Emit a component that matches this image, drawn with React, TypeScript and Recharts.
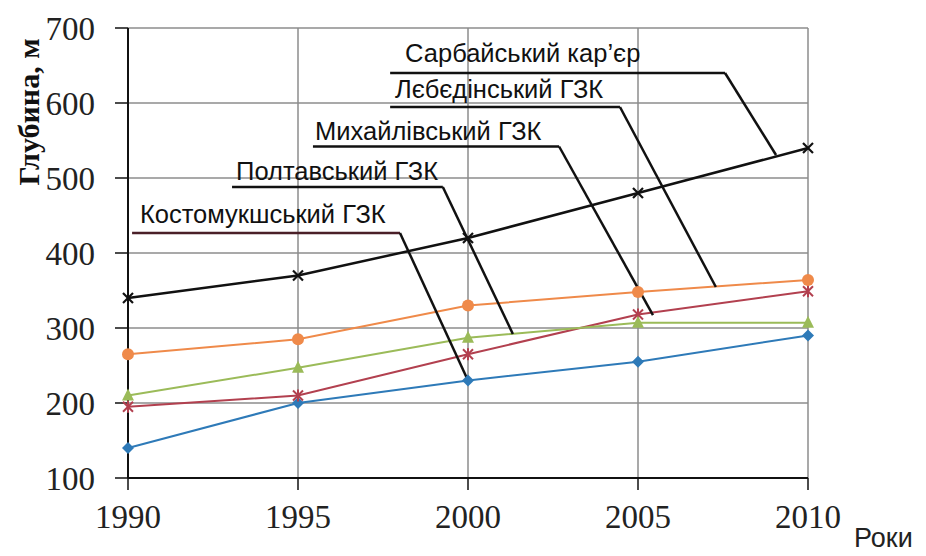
import React from 'react';
import { LineChart, Line, XAxis, YAxis, CartesianGrid, ReferenceLine, ReferenceDot } from 'recharts';

const years = [1990, 1995, 2000, 2005, 2010];
const kostomuksha = [140, 200, 230, 255, 290];
const poltava = [210, 247, 287, 307, 307];
const mykhailivsky = [195, 210, 265, 318, 349];
const lebedinsky = [265, 285, 330, 348, 364];
const sarbai = [340, 370, 420, 480, 540];

const xTicks = [1990, 1995, 2000, 2005, 2010];
const yTicks = [100, 200, 300, 400, 500, 600, 700];

// callouts in data units: text anchor, underline, pointer end on the series
const calloutNames = ['Сарбайський кар\u2019єр', 'Лєбєдінський ГЗК', 'Михайлівський ГЗК', 'Полтавський ГЗК', 'Костомукшський ГЗК'];
const calloutTextX = [1998.15, 1997.85, 1995.5, 1993.18, 1990.35];
const calloutTextY = [654.7, 606.7, 550.7, 497.3, 440];
const calloutFromX = [1997.71, 1997.71, 1995.44, 1993.06, 1990.12];
const calloutToX = [2007.56, 2004.47, 2002.68, 1999.26, 1998];
const calloutLineY = [640, 594.7, 542, 488, 426.7];
const calloutEndX = [2009.06, 2007.29, 2005.44, 2001.32, 2000];
const calloutEndY = [530.7, 354.7, 317.3, 292, 230];

const data = years.map((year, i) => ({
  year,
  kostomuksha: kostomuksha[i],
  poltava: poltava[i],
  mykhailivsky: mykhailivsky[i],
  lebedinsky: lebedinsky[i],
  sarbai: sarbai[i],
}));

const CrossDot = ({ cx, cy }: any) => (
  <g stroke="#111" strokeWidth={2.2}>
    <line x1={cx - 5} y1={cy - 5} x2={cx + 5} y2={cy + 5} />
    <line x1={cx - 5} y1={cy + 5} x2={cx + 5} y2={cy - 5} />
  </g>
);

const StarDot = ({ cx, cy }: any) => (
  <g stroke="#b2404f" strokeWidth={2}>
    <line x1={cx - 5} y1={cy - 5} x2={cx + 5} y2={cy + 5} />
    <line x1={cx - 5} y1={cy + 5} x2={cx + 5} y2={cy - 5} />
    <line x1={cx} y1={cy - 6} x2={cx} y2={cy + 6} />
  </g>
);

const CircleDot = ({ cx, cy }: any) => <circle cx={cx} cy={cy} r={6} fill="#ef8a4a" stroke="none" />;

const TriangleDot = ({ cx, cy }: any) => (
  <polygon points={`${cx},${cy - 7} ${cx + 6},${cy + 5} ${cx - 6},${cy + 5}`} fill="#9bbb59" />
);

const DiamondDot = ({ cx, cy }: any) => (
  <polygon points={`${cx},${cy - 6} ${cx + 6},${cy} ${cx},${cy + 6} ${cx - 6},${cy}`} fill="#2e7ab8" />
);

const YTitle = ({ viewBox }: any) => {
  const x = viewBox.x;
  const y = viewBox.y + 84;
  return (
    <text
      x={x}
      y={y}
      transform={`rotate(-90 ${x} ${y})`}
      textAnchor="middle"
      dominantBaseline="central"
      fontFamily="'Liberation Serif', serif"
      fontWeight="bold"
      fontSize={30}
      fill="#111"
    >
      Глубина, м
    </text>
  );
};

const XTitle = ({ viewBox }: any) => (
  <text
    x={viewBox.x + viewBox.width + 46}
    y={547}
    fontFamily="'Liberation Sans', Arial, sans-serif"
    fontSize={27}
    fill="#222"
  >
    Роки
  </text>
);

export default function App() {
  return (
    <div style={{ position: 'absolute', left: 0, top: 0, width: 926, height: 556, background: '#fff' }}>
      <LineChart width={926} height={556} data={data} margin={{ top: 28, right: 118, bottom: 38, left: 28 }}>
        <CartesianGrid stroke="#8c8c8c" strokeWidth={1.5} />
        <XAxis
          dataKey="year"
          type="number"
          domain={[1990, 2010]}
          ticks={xTicks}
          height={40}
          tickSize={12}
          tickMargin={15}
          axisLine={{ stroke: '#111', strokeWidth: 2 }}
          tickLine={{ stroke: '#111', strokeWidth: 1.5 }}
          tick={{ fontFamily: "'Liberation Serif', serif", fontSize: 33, fill: '#222' }}
          label={<XTitle />}
        />
        <YAxis
          type="number"
          domain={[100, 700]}
          ticks={yTicks}
          width={100}
          tickSize={13}
          tickMargin={20}
          axisLine={{ stroke: '#111', strokeWidth: 2 }}
          tickLine={{ stroke: '#111', strokeWidth: 1.5 }}
          tick={{ fontFamily: "'Liberation Serif', serif", fontSize: 33, fill: '#222' }}
          label={<YTitle />}
        />

        <Line dataKey="kostomuksha" stroke="#2e7ab8" strokeWidth={2} dot={<DiamondDot />} isAnimationActive={false} />
        <Line dataKey="mykhailivsky" stroke="#b2404f" strokeWidth={2} dot={<StarDot />} isAnimationActive={false} />
        <Line dataKey="poltava" stroke="#9bbb59" strokeWidth={2} dot={<TriangleDot />} isAnimationActive={false} />
        <Line dataKey="lebedinsky" stroke="#ef8a4a" strokeWidth={2} dot={<CircleDot />} isAnimationActive={false} />
        <Line dataKey="sarbai" stroke="#111" strokeWidth={2.5} dot={<CrossDot />} isAnimationActive={false} />

        {calloutNames.map((name, i) => (
          <ReferenceLine
            key={`ul-${name}`}
            segment={[
              { x: calloutFromX[i], y: calloutLineY[i] },
              { x: calloutToX[i], y: calloutLineY[i] },
            ]}
            stroke={i === 4 ? '#4a1f28' : '#111'}
            strokeWidth={2.5}
          />
        ))}
        {calloutNames.map((name, i) => (
          <ReferenceLine
            key={`ptr-${name}`}
            segment={[
              { x: calloutToX[i], y: calloutLineY[i] },
              { x: calloutEndX[i], y: calloutEndY[i] },
            ]}
            stroke="#111"
            strokeWidth={2.5}
          />
        ))}
        {calloutNames.map((name, i) => (
          <ReferenceDot
            key={`txt-${name}`}
            x={calloutTextX[i]}
            y={calloutTextY[i]}
            r={0}
            shape={(p: any) => (
              <text
                x={p.cx}
                y={p.cy}
                fontFamily="'Liberation Sans', Arial, sans-serif"
                fontSize={25.5}
                fill="#111"
              >
                {name}
              </text>
            )}
          />
        ))}
      </LineChart>
    </div>
  );
}
